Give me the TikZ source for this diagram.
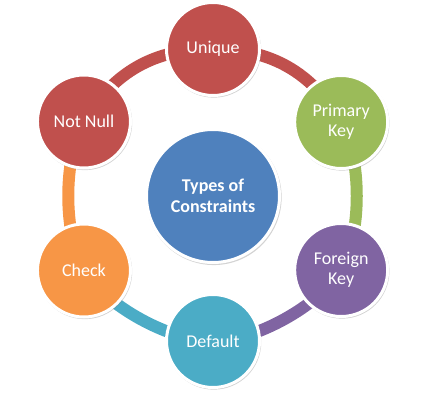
\documentclass[tikz,border=0pt]{standalone}
\usepackage{fontspec}
\setmainfont{Carlito}
\usetikzlibrary{shadows, backgrounds}

\definecolor{uniquered}{HTML}{C0504D}
\definecolor{keygreen}{HTML}{9BBB59}
\definecolor{foreignpurple}{HTML}{8064A2}
\definecolor{defaultteal}{HTML}{4BACC6}
\definecolor{checkorange}{HTML}{F79646}
\definecolor{hubblue}{HTML}{4F81BD}

\begin{document}
\begin{tikzpicture}[x=1pt, y=1pt,
    item/.style={circle, draw=white, line width=3pt, minimum size=93pt,
        text=white, align=center, font=\fontsize{18}{20}\selectfont,
        drop shadow={opacity=0.35, shadow xshift=0.8pt, shadow yshift=-1.2pt, shadow scale=1.02}},
    hub/.style={item, minimum size=133pt, font=\fontsize{18}{21}\selectfont\bfseries},
    ring/.style={line width=12pt, bend left=30, looseness=0.72}]
    \useasboundingbox (-213,-205) rectangle (217,196);

    % Centre
    \node[hub, fill=hubblue] (types) at (0,0) {Types of\\Constraints};

    % Constraints round the ring
    \node[item, fill=uniquered] (unique) at (90:147) {Unique};
    \node[item, fill=keygreen] (primary) at (30:148) {Primary\\Key};
    \node[item, fill=foreignpurple] (foreign) at (-30:148) {Foreign\\Key};
    \node[item, fill=defaultteal] (default) at (-90:145) {Default};
    \node[item, fill=checkorange] (check) at (-150:149) {Check};
    \node[item, fill=uniquered] (notnull) at (150:149) {Not Null};

    % Ring segments
    \begin{scope}[on background layer]
        \draw[ring, uniquered, looseness=1] (unique.center) to (primary.center);
        \draw[ring, keygreen] (primary.center) to (foreign.center);
        \draw[ring, foreignpurple] (foreign.center) to (default.center);
        \draw[ring, defaultteal] (default.center) to (check.center);
        \draw[ring, checkorange] (check.center) to (notnull.center);
        \draw[ring, uniquered, looseness=1] (notnull.center) to (unique.center);
    \end{scope}
\end{tikzpicture}
\end{document}
